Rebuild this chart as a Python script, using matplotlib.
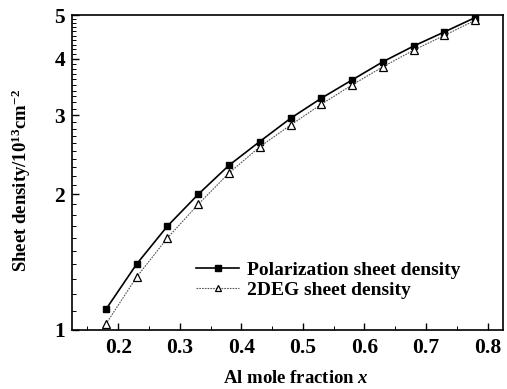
import numpy as np
import matplotlib.pyplot as plt
from matplotlib.ticker import FixedLocator, NullFormatter, MultipleLocator

x = [0.18, 0.23, 0.28, 0.33, 0.38, 0.43, 0.48, 0.53, 0.58, 0.63, 0.68, 0.73, 0.78]
polarization = [1.11, 1.40, 1.70, 2.00, 2.32, 2.62, 2.95, 3.27, 3.59, 3.94, 4.27, 4.59, 4.94]
deg2 = [1.03, 1.31, 1.60, 1.90, 2.23, 2.55, 2.85, 3.17, 3.50, 3.84, 4.18, 4.51, 4.87]

yticks = [1, 2, 3, 4, 5]
xticks = [0.2, 0.3, 0.4, 0.5, 0.6, 0.7, 0.8]

plt.rcParams['font.family'] = ['Liberation Serif', 'DejaVu Serif']
plt.rcParams['font.weight'] = 'bold'
plt.rcParams['axes.labelweight'] = 'bold'
plt.rcParams['mathtext.fontset'] = 'custom'
plt.rcParams['mathtext.rm'] = 'Liberation Serif:bold'
plt.rcParams['mathtext.it'] = 'Liberation Serif:italic:bold'
plt.rcParams['mathtext.bf'] = 'Liberation Serif:bold'

fig = plt.figure(figsize=(5.07, 3.89), dpi=100)
ax = fig.add_axes([0.142, 0.152, 0.850, 0.809])

ax.plot(x, polarization, color='black', lw=1.2, marker='s', ms=5,
        mfc='black', mec='black', label='Polarization sheet density')
ax.plot(x, deg2, color='#555555', lw=0.8, ls=(0, (1.5, 1)), marker='^', ms=5.5,
        mfc='white', mec='black', mew=0.9, label='2DEG sheet density')

ax.set_yscale('log')
ax.set_ylim(1, 5)
ax.set_xlim(0.125, 0.825)
ax.yaxis.set_major_locator(FixedLocator(yticks))
ax.yaxis.set_major_formatter(plt.FixedFormatter([str(v) for v in yticks]))
ax.yaxis.set_minor_locator(FixedLocator(np.arange(1.1, 5.0, 0.1)))
ax.yaxis.set_minor_formatter(NullFormatter())
ax.xaxis.set_major_locator(FixedLocator(xticks))
ax.set_xticklabels([f'{v:.1f}' for v in xticks])
ax.xaxis.set_minor_locator(MultipleLocator(0.05))

ax.tick_params(which='both', direction='in', top=False, right=False, labelsize=15.5)
ax.tick_params(which='major', length=5, width=1.0)
ax.tick_params(which='minor', length=3, width=0.7)
ax.tick_params(axis='x', pad=6)
ax.tick_params(axis='y', pad=5)
for s in ax.spines.values():
    s.set_linewidth(1.2)

ax.set_xlabel('Al mole fraction $x$', fontsize=13.5)
ax.xaxis.set_label_coords(0.52, -0.128)
ax.set_ylabel(r'Sheet density/10$^{13}$cm$^{-2}$', fontsize=13.5)
ax.yaxis.set_label_coords(-0.09, 0.475)

ax.legend(loc='upper left', bbox_to_anchor=(0.266, 0.25), frameon=False,
          fontsize=14, handlelength=2.2, handletextpad=0.4, labelspacing=0.15,
          markerscale=0.8, borderpad=0)

fig.savefig('out.png', dpi=100)
